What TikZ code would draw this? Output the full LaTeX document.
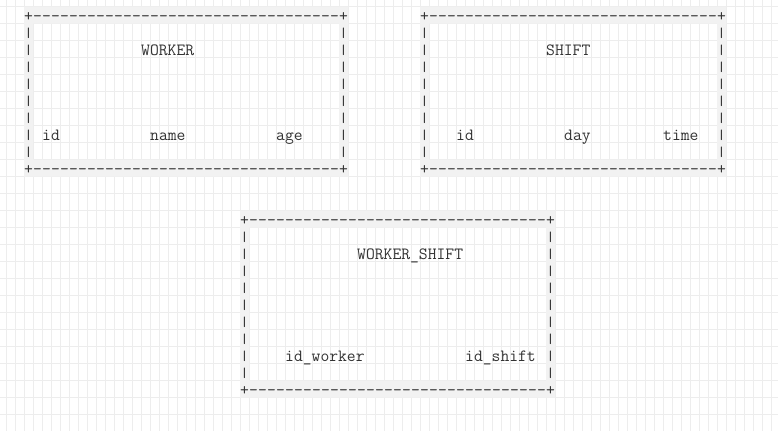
\documentclass[tikz,border=0pt]{standalone}
\usepackage{graphicx}
\usepackage{xcolor}
\usetikzlibrary{positioning}
\definecolor{gridgray}{HTML}{EDEDED}
\definecolor{bandgray}{HTML}{F2F2F2}
\definecolor{inkgray}{HTML}{333333}

\begin{document}
\begin{tikzpicture}[x = 9pt, y = -17pt]
		\tikzstyle{every node}=[font=\ttfamily\fontsize{17.14}{17}\selectfont, inner sep=0pt, text=inkgray]
		\tikzstyle{chr}=[anchor=base west]
		\tikzstyle{bar}=[anchor=center]
		\tikzstyle{gridline}=[gridgray, line width=1pt]
		\useasboundingbox (-0.6667,-0.3824) rectangle (85.778,24.971);
		\fill [white] (-0.6667,-0.3824) rectangle (85.778,24.971);
		\foreach \k in {0,...,85} \draw [gridline] (\k,-0.3824) -- (\k,24.971);
		\foreach \k in {0,...,24} \draw [gridline] (-0.6667,\k) -- (85.778,\k);
		\foreach \name/\c/\r/\w/\h in {worker/2/0/36/10, shift/46/0/34/10, workershift/26/12/35/11} {
			\pgfmathtruncatemacro\lastcol{\w-1}
			\pgfmathtruncatemacro\lastrow{\h-1}
			\pgfmathtruncatemacro\lastdash{\w-2}
			\pgfmathtruncatemacro\lastbar{\h-2}
			\fill [bandgray, even odd rule] (\c,\r) rectangle ++(\w,\h) (\c+1,\r+1) rectangle ++(\w-2,\h-2);
			\node [chr] (\name-tl) at (\c,\r+0.88) {+};
			\node [chr] (\name-tr) at (\c+\lastcol,\r+0.88) {+};
			\node [chr] (\name-bl) at (\c,\r+\lastrow+0.88) {+};
			\node [chr] (\name-br) at (\c+\lastcol,\r+\lastrow+0.88) {+};
			\foreach \i in {1,...,\lastdash} {
				\node [chr] (\name-t\i) at (\c+\i,\r+0.88) {-};
				\node [chr] (\name-b\i) at (\c+\i,\r+\lastrow+0.88) {-};
			}
			\foreach \j in {1,...,\lastbar} {
				\node [bar] (\name-l\j) at (\c+0.5,\r+\j+0.58) {\scalebox{1}[0.8]{|}};
				\node [bar] (\name-r\j) at (\c+\lastcol+0.5,\r+\j+0.58) {\scalebox{1}[0.8]{|}};
			}
		}
		\node [chr] (worker) at (15,2.88) {WORKER};
		\node [chr] (worker-id) at (4,7.88) {id};
		\node [chr] (worker-name) at (16,7.88) {name};
		\node [chr] (worker-age) at (30,7.88) {age};
		\node [chr] (shift) at (60,2.88) {SHIFT};
		\node [chr] (shift-id) at (50,7.88) {id};
		\node [chr] (shift-day) at (62,7.88) {day};
		\node [chr] (shift-time) at (73,7.88) {time};
		\node [chr] (workershift) at (39,14.88) {WORKER\_SHIFT};
		\node [chr] (workershift-worker) at (31,20.88) {id\_worker};
		\node [chr] (workershift-shift) at (51,20.88) {id\_shift};
\end{tikzpicture}
\end{document}
